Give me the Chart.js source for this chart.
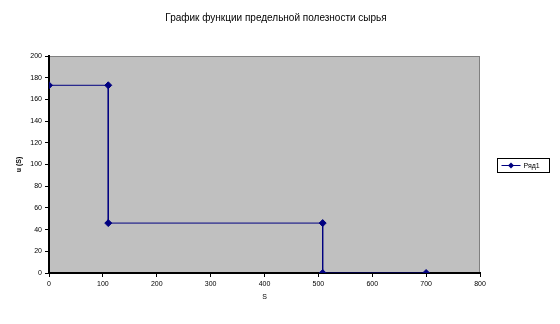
<!DOCTYPE html>
<html>
<head>
<meta charset="utf-8">
<script src="https://cdn.jsdelivr.net/npm/chart.js@4/dist/chart.umd.min.js"></script>
<style>
  html, body { margin: 0; padding: 0; background: #fff; }
  #wrap { width: 560px; height: 324px; }
</style>
</head>
<body>
<div id="wrap"><canvas id="c" width="560" height="324"></canvas></div>
<script>
// данные графика
const sValues = [0, 110, 110, 508, 508, 700];
const uValues = [173, 173, 46, 46, 0, 0];
const seriesName = 'Ряд1';
const chartTitle = 'График функции предельной полезности сырья';
const xTitle = 'S';
const yTitle = 'u (S)';

const points = sValues.map((s, i) => ({ x: s, y: uValues[i] }));
const navy = '#000080';

// серый фон области построения, заголовок и легенда в рамке
const excelLook = {
    id: 'excelLook',
    beforeDraw(chart) {
        const { ctx, chartArea: a } = chart;
        ctx.save();
        ctx.fillStyle = '#c0c0c0';
        ctx.fillRect(a.left, a.top, a.right - a.left, a.bottom - a.top);
        ctx.strokeStyle = '#808080';
        ctx.lineWidth = 1;
        ctx.strokeRect(a.left + 0.5, a.top + 0.5, a.right - a.left - 1, a.bottom - a.top - 1);
        ctx.restore();
    },
    afterDraw(chart) {
        const { ctx } = chart;
        ctx.save();
        ctx.fillStyle = '#000';
        ctx.font = '10px Arial, "Liberation Sans", sans-serif';
        ctx.textAlign = 'center';
        ctx.textBaseline = 'middle';
        ctx.fillText(chartTitle, 276, 18);

        // легенда
        const bx = 497.5, by = 158.5, bw = 52, bh = 14;
        ctx.strokeStyle = '#000';
        ctx.lineWidth = 1;
        ctx.strokeRect(bx, by, bw, bh);
        ctx.strokeStyle = navy;
        ctx.beginPath();
        ctx.moveTo(bx + 4, by + 7);
        ctx.lineTo(bx + 23, by + 7);
        ctx.stroke();
        ctx.fillStyle = navy;
        ctx.beginPath();
        const cx = bx + 13.5, cy = by + 7, r = 3;
        ctx.moveTo(cx, cy - r);
        ctx.lineTo(cx + r, cy);
        ctx.lineTo(cx, cy + r);
        ctx.lineTo(cx - r, cy);
        ctx.closePath();
        ctx.fill();
        ctx.fillStyle = '#000';
        ctx.font = '7px Arial, "Liberation Sans", sans-serif';
        ctx.textAlign = 'left';
        ctx.fillText(seriesName, bx + 26, by + 7.5);
        ctx.restore();
    }
};

const tickFont = { family: 'Arial, "Liberation Sans", sans-serif', size: 7 };

new Chart(document.getElementById('c').getContext('2d'), {
    type: 'scatter',
    data: {
        datasets: [{
            label: seriesName,
            data: points,
            showLine: true,
            borderColor: navy,
            borderWidth: 1,
            backgroundColor: navy,
            pointStyle: 'rectRot',
            pointRadius: 3.5,
            pointHoverRadius: 3.5,
            tension: 0
        }]
    },
    options: {
        responsive: false,
        animation: false,
        events: [],
        layout: { padding: { top: 56, right: 80, left: 11, bottom: 19 } },
        plugins: {
            legend: { display: false },
            tooltip: { enabled: false },
            title: { display: false }
        },
        scales: {
            x: {
                type: 'linear',
                min: 0,
                max: 800,
                ticks: { stepSize: 100, color: '#000', font: tickFont, padding: 3, maxRotation: 0 },
                grid: { drawOnChartArea: false, color: '#000', tickLength: 4 },
                border: { color: '#000', width: 2 },
                title: { display: true, text: xTitle, color: '#000', font: tickFont, padding: { top: 4, bottom: 4 } },
                afterFit(scale) { scale.height = 32; }
            },
            y: {
                min: 0,
                max: 200,
                ticks: { stepSize: 20, color: '#000', font: tickFont, padding: 3 },
                grid: { drawOnChartArea: false, color: '#000', tickLength: 4 },
                border: { color: '#000', width: 2 },
                title: { display: true, text: yTitle, color: '#000', font: { ...tickFont, weight: 'bold' }, padding: { top: 4, bottom: 4 } },
                afterFit(scale) { scale.width = 38; }
            }
        }
    },
    plugins: [excelLook]
});
</script>
</body>
</html>
